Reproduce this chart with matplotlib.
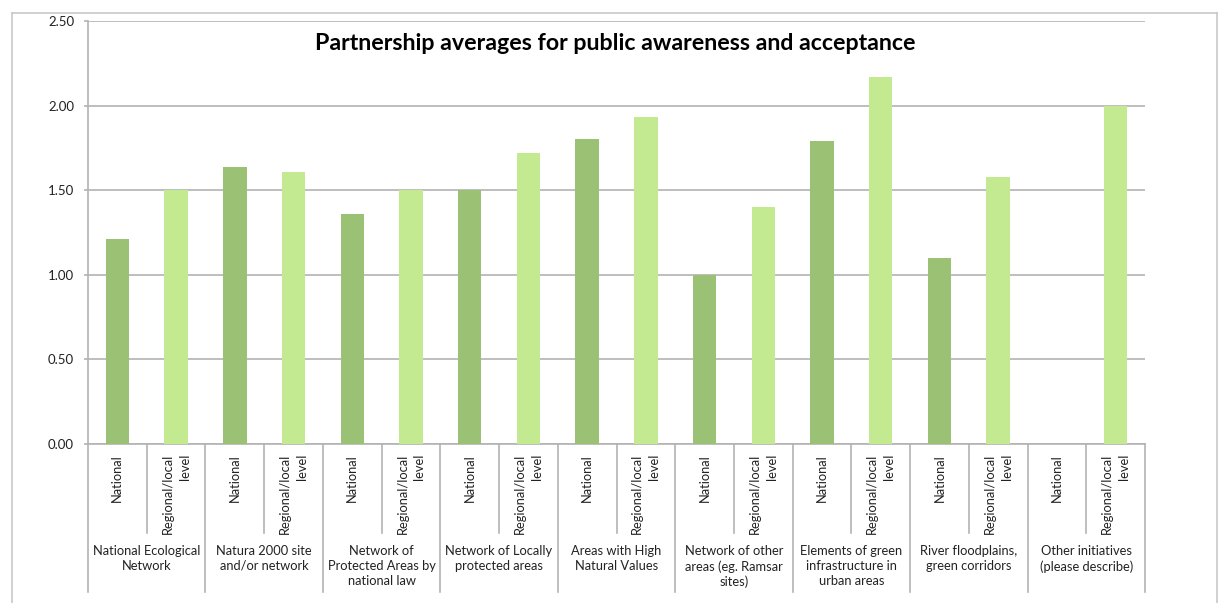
import matplotlib.pyplot as plt
from matplotlib.lines import Line2D
import numpy as np

plt.rcParams['font.family'] = ['Lato', 'DejaVu Sans']

groups = ["National Ecological\nNetwork",
          "Natura 2000 site\nand/or network",
          "Network of\nProtected Areas by\nnational law",
          "Network of Locally\nprotected areas",
          "Areas with High\nNatural Values",
          "Network of other\nareas (eg. Ramsar\nsites)",
          "Elements of green\ninfrastructure in\nurban areas",
          "River floodplains,\ngreen corridors",
          "Other initiatives\n(please describe)"]
levels = ["National", "Regional/local\nlevel"]
national = [1.21, 1.64, 1.36, 1.50, 1.80, 1.00, 1.79, 1.10, 0.0]
regional = [1.50, 1.61, 1.50, 1.72, 1.93, 1.40, 2.17, 1.58, 2.00]
yticks = [0.0, 0.5, 1.0, 1.5, 2.0, 2.5]

c_nat = "#9bc274"
c_reg = "#c3ea90"
grid_c = "#b3b3b3"
txt_c = "#222222"

W, H = 1218, 603
fig = plt.figure(figsize=(W / 100, H / 100), dpi=100)
ax = fig.add_axes([88 / W, 1 - 444 / H, (1145 - 88) / W, (444 - 21) / H])

n = len(groups)
xn = np.arange(n) * 2
xr = xn + 1
ax.bar(xn, national, width=0.4, color=c_nat, zorder=3)
ax.bar(xr, regional, width=0.4, color=c_reg, zorder=3)

ax.set_xlim(-0.5, 2 * n - 0.5)
ax.set_ylim(0, 2.5)
ax.set_yticks(yticks)
ax.set_yticklabels([f"{v:.2f}" for v in yticks], fontsize=9.5, color=txt_c)
ax.yaxis.grid(True, color=grid_c, lw=1.2, zorder=0)
ax.set_xticks([])
for s in ["top", "right"]:
    ax.spines[s].set_visible(False)
for s in ["left", "bottom"]:
    ax.spines[s].set_color(grid_c)
    ax.spines[s].set_linewidth(1.2)
ax.tick_params(axis="y", length=3, width=1.2, color=grid_c, pad=7)

fig.text(615 / W, 1 - 44 / H, "Partnership averages for public awareness and acceptance",
         ha="center", va="center", fontsize=16.7, fontweight="bold")

# two-level category axis below the plot
tr = ax.get_xaxis_transform()
px = 1 / (444 - 21)
for i in range(n):
    for j, lab in enumerate(levels):
        ax.text(2 * i + j, -10 * px, lab, rotation=90, ha="center", va="top",
                multialignment="right", fontsize=9.3, color=txt_c,
                transform=tr, clip_on=False, linespacing=1.5)
    ax.text(2 * i + 0.5, -101 * px, groups[i], ha="center", va="top",
            fontsize=9.3, color=txt_c, transform=tr, clip_on=False,
            linespacing=1.3)
for k in range(2 * n + 1):
    bottom = -148 * px if k % 2 == 0 else -89 * px
    ax.add_line(Line2D([k - 0.5, k - 0.5], [0, bottom], transform=tr,
                       color=grid_c, lw=1.2, clip_on=False))

# chart frame
for xs, ys in [([12, 12], [13, H]), ([12, 1217], [13, 13]), ([1217, 1217], [13, H])]:
    fig.add_artist(Line2D([x / W for x in xs], [1 - y / H for y in ys],
                          color="#c8c8c8", lw=1.2))

fig.savefig("out.png", dpi=100)
